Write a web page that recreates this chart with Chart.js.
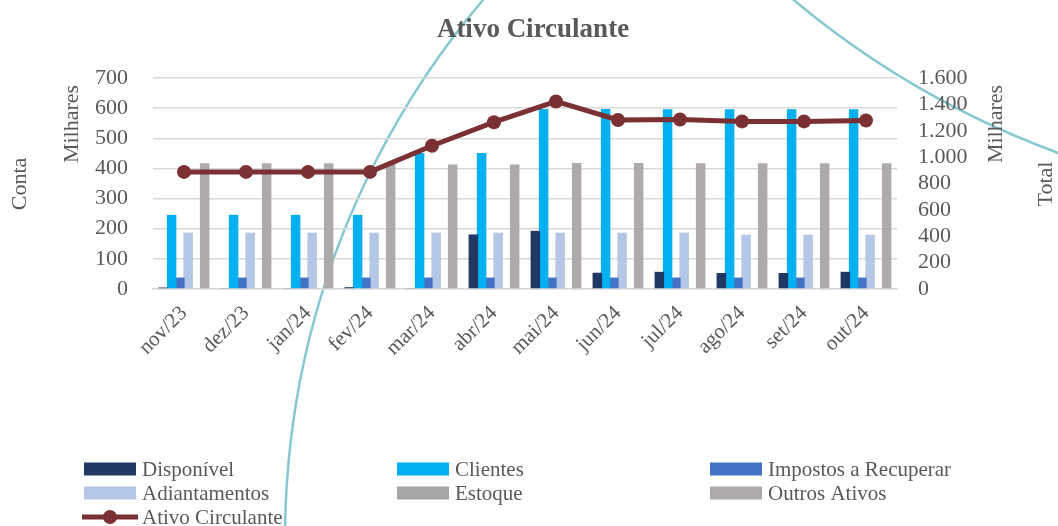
<!DOCTYPE html>
<html>
<head>
<meta charset="utf-8">
<script src="https://cdn.jsdelivr.net/npm/chart.js@4/dist/chart.umd.min.js"></script>
<style>
  body { margin: 0; background: #fff; }
  #box { width: 1058px; height: 526px; position: relative; }
</style>
</head>
<body>
<div id="box"><canvas id="Ativo_Circulante"></canvas></div>
<script>
// dados (milhares)
const meses = ['nov/23', 'dez/23', 'jan/24', 'fev/24', 'mar/24', 'abr/24', 'mai/24', 'jun/24', 'jul/24', 'ago/24', 'set/24', 'out/24'];
const disponivel = [5, 3, 3, 6, 3, 181, 193, 54, 57, 53, 53, 57];
const clientes = [246, 246, 246, 246, 451, 451, 597, 597, 596, 596, 596, 596];
const impostosRecuperar = [38, 38, 38, 38, 38, 38, 38, 38, 38, 38, 38, 38];
const adiantamentos = [187, 187, 187, 187, 187, 187, 187, 187, 187, 180, 180, 180];
const estoque = [0, 0, 0, 0, 0, 0, 0, 0, 0, 0, 0, 0];
const outrosAtivos = [417, 417, 417, 417, 413, 413, 418, 418, 417, 417, 417, 417];
const ativoCirculante = [888, 888, 888, 888, 1086, 1265, 1422, 1282, 1285, 1271, 1271, 1278];

const fonte = '"Liberation Serif", "Times New Roman", serif';
const cinza = '#595959';

function milhar(v) {
    return String(v).replace(/\B(?=(\d{3})+(?!\d))/g, '.');
}

// arcos decorativos, titulos e legenda
const decoracao = {
    id: 'decoracao',
    beforeDraw(chart) {
        const c = chart.ctx;
        c.save();
        c.strokeStyle = '#86C8D1';
        c.lineWidth = 2.5;
        c.beginPath();
        c.arc(1117, 539, 832, Math.PI * 0.9, Math.PI * 1.5);
        c.stroke();
        c.beginPath();
        c.arc(1363, -679, 886, Math.PI * 0.55, Math.PI * 0.75);
        c.stroke();
        c.restore();
    },
    afterDraw(chart) {
        const c = chart.ctx;
        c.save();
        c.fillStyle = cinza;
        c.textAlign = 'center';
        c.textBaseline = 'middle';
        c.font = 'bold 27px ' + fonte;
        c.fillText('Ativo Circulante', 533, 30);

        c.font = '22px ' + fonte;
        const vertical = [['Conta', 20, 184], ['Milhares', 72, 124], ['Milhares', 996, 124], ['Total', 1046, 184]];
        vertical.forEach(([t, x, y]) => {
            c.save();
            c.translate(x, y);
            c.rotate(-Math.PI / 2);
            c.fillText(t, 0, 0);
            c.restore();
        });

        // legenda em 3 colunas
        const colX = [84, 397, 710];
        const rowY = [469, 493, 517];
        c.font = '21px ' + fonte;
        c.textAlign = 'left';
        chart.data.datasets.forEach((ds, i) => {
            const x = colX[i % 3];
            const y = rowY[Math.floor(i / 3)];
            if (ds.type === 'line') {
                c.strokeStyle = ds.borderColor;
                c.lineWidth = 5;
                c.beginPath();
                c.moveTo(x - 2, y);
                c.lineTo(x + 54, y);
                c.stroke();
                c.fillStyle = ds.borderColor;
                c.beginPath();
                c.arc(x + 26, y, 7, 0, Math.PI * 2);
                c.fill();
            } else {
                c.fillStyle = ds.backgroundColor;
                c.fillRect(x, y - 6.5, 52, 13);
            }
            c.fillStyle = cinza;
            c.fillText(ds.label, x + 58, y + 1);
        });
        c.restore();
    }
};

var ctx = document.getElementById('Ativo_Circulante').getContext('2d');
var myChart = new Chart(ctx, {
    data: {
        labels: meses,
        datasets: [
            { type: 'bar', label: 'Disponível', data: disponivel, backgroundColor: '#203864', order: 1 },
            { type: 'bar', label: 'Clientes', data: clientes, backgroundColor: '#00B0F0', order: 1 },
            { type: 'bar', label: 'Impostos a Recuperar', data: impostosRecuperar, backgroundColor: '#4472C4', order: 1 },
            { type: 'bar', label: 'Adiantamentos', data: adiantamentos, backgroundColor: '#B4C7E7', order: 1 },
            { type: 'bar', label: 'Estoque', data: estoque, backgroundColor: '#A5A5A5', order: 1 },
            { type: 'bar', label: 'Outros Ativos', data: outrosAtivos, backgroundColor: '#AEAAAA', order: 1 },
            { type: 'line', label: 'Ativo Circulante', data: ativoCirculante, yAxisID: 'y1', order: 0,
              borderColor: '#7B3133', backgroundColor: '#7B3133', borderWidth: 5,
              pointRadius: 7, pointBackgroundColor: '#7B3133', pointBorderWidth: 0, tension: 0 }
        ]
    },
    options: {
        responsive: true,
        maintainAspectRatio: false,
        animation: false,
        datasets: { bar: { categoryPercentage: 0.8, barPercentage: 1.15 } },
        layout: { padding: { top: 78, left: 0, right: 0, bottom: 147 } },
        plugins: { legend: { display: false }, title: { display: false }, tooltip: { enabled: false } },
        scales: {
            x: {
                grid: { display: false },
                border: { color: '#D9D9D9', width: 1.5 },
                ticks: { color: cinza, font: { family: fonte, size: 21 }, minRotation: 45, maxRotation: 45, autoSkip: false, padding: 4 },
                afterFit: s => { s.height = 90; }
            },
            y: {
                position: 'left',
                min: 0, max: 700,
                grid: { color: '#D9D9D9', lineWidth: 1.5, drawTicks: false },
                border: { display: false },
                ticks: { stepSize: 100, autoSkip: false, color: cinza, font: { family: fonte, size: 22 }, padding: 25 },
                afterFit: s => { s.width = 153; }
            },
            y1: {
                position: 'right',
                min: 0, max: 1600,
                grid: { display: false, drawTicks: false },
                border: { display: false },
                ticks: { stepSize: 200, autoSkip: false, color: cinza, font: { family: fonte, size: 22 }, padding: 21, callback: v => milhar(v) },
                afterFit: s => { s.width = 161; }
            }
        }
    },
    plugins: [decoracao]
});
</script>
</body>
</html>
